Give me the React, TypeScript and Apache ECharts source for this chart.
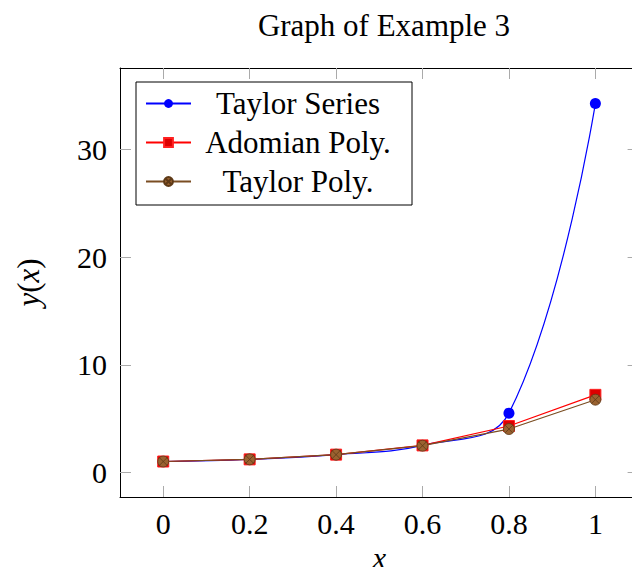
import React, { useEffect, useRef } from "react";
import * as echarts from "echarts";

const xValues = [0, 0.2, 0.4, 0.6, 0.8, 1];
const taylorSeries = [1, 1.2, 1.64, 2.5, 5.5, 34.3];
const adomianPoly = [1, 1.2, 1.64, 2.5, 4.3, 7.2];
const taylorPoly = [1, 1.2, 1.64, 2.47, 4.02, 6.75];
const xTicks = [0, 0.2, 0.4, 0.6, 0.8, 1];
const yTicks = [0, 10, 20, 30];
const seriesNames = ["Taylor Series", "Adomian Poly.", "Taylor Poly."];

const FONT = "'Liberation Serif', serif";
const otimes =
  "path://M10 0A10 10 0 1 1 -10 0A10 10 0 1 1 10 0Z M-7 -7L7 7M-7 7L7 -7";

function pairs(ys: number[]) {
  return xValues.map((x, i) => [x, ys[i]]);
}

export default function App() {
  const ref = useRef<HTMLDivElement>(null);
  useEffect(() => {
    if (!ref.current) return;
    const chart = echarts.init(ref.current, null, { renderer: "svg" });
    const tickStyle = { color: "#aaaaaa", width: 1 };
    const axisLine = { show: true, onZero: false, lineStyle: { color: "#000", width: 1 } };
    const baseX = {
      type: "value",
      min: -0.1,
      max: 1.1,
      splitLine: { show: false },
      axisLine,
    };
    const baseY = {
      type: "value",
      min: -2.3,
      max: 37.6,
      splitLine: { show: false },
      axisLine,
    };
    chart.setOption({
      animation: false,
      backgroundColor: "#fff",
      title: {
        text: "Graph of Example 3",
        left: 379,
        top: 5,
        textAlign: "center",
        textStyle: { fontFamily: FONT, fontSize: 31, fontWeight: "normal", color: "#000" },
      },
      grid: {
        left: 120,
        top: 68,
        width: 518.6,
        height: 429,
        containLabel: false,
        outerBoundsMode: "none",
      },
      legend: {
        orient: "vertical",
        left: 136,
        top: 82,
        padding: [6, 12, 8, 9],
        itemGap: 8,
        itemWidth: 45,
        itemHeight: 11,
        borderColor: "#000",
        borderWidth: 1,
        backgroundColor: "#fff",
        data: seriesNames,
        formatter: (name: string) => `{t|${name}}`,
        textStyle: {
          rich: {
            t: {
              width: 204,
              align: "center",
              fontFamily: FONT,
              fontSize: 31,
              lineHeight: 30,
              color: "#000",
            },
          },
        },
      },
      xAxis: [
        {
          ...baseX,
          position: "bottom",
          name: "x",
          nameLocation: "middle",
          nameGap: 37,
          nameTextStyle: {
            fontFamily: FONT,
            fontSize: 30,
            fontStyle: "italic",
            color: "#000",
          },
          axisTick: { inside: true, length: 11, lineStyle: tickStyle, customValues: xTicks },
          axisLabel: {
            customValues: xTicks,
            margin: 11,
            fontFamily: FONT,
            fontSize: 30,
            color: "#000",
            formatter: (v: number) => String(Math.round(v * 10) / 10),
          },
        },
        {
          ...baseX,
          position: "top",
          axisTick: { inside: true, length: 11, lineStyle: tickStyle, customValues: xTicks },
          axisLabel: { show: false },
        },
      ],
      yAxis: [
        {
          ...baseY,
          position: "left",
          name: "{i|y}{n|(}{i|x}{n|)}",
          nameLocation: "middle",
          nameGap: 76,
          nameTextStyle: {
            fontFamily: FONT,
            fontSize: 31,
            color: "#000",
            rich: {
              i: { fontFamily: FONT, fontSize: 31, fontStyle: "italic", color: "#000" },
              n: { fontFamily: FONT, fontSize: 31, color: "#000" },
            },
          },
          axisTick: { inside: true, length: 11, lineStyle: tickStyle, customValues: yTicks },
          axisLabel: {
            customValues: yTicks,
            margin: 13,
            fontFamily: FONT,
            fontSize: 30,
            color: "#000",
          },
        },
        {
          ...baseY,
          position: "right",
          axisTick: { inside: true, length: 11, lineStyle: tickStyle, customValues: yTicks },
          axisLabel: { show: false },
        },
      ],
      series: [
        {
          name: seriesNames[0],
          type: "line",
          smooth: 0.4,
          data: pairs(taylorSeries),
          symbol: "circle",
          symbolSize: 11,
          lineStyle: { color: "#0000ff", width: 1.2 },
          itemStyle: { color: "#0000ff" },
          z: 2,
        },
        {
          name: seriesNames[1],
          type: "line",
          data: pairs(adomianPoly),
          symbol: "rect",
          symbolSize: 11,
          lineStyle: { color: "#ff0000", width: 1.2 },
          itemStyle: { color: "#dd0000", borderColor: "#ff2020", borderWidth: 1 },
          z: 3,
        },
        {
          name: seriesNames[2],
          type: "line",
          data: pairs(taylorPoly),
          symbol: otimes,
          symbolSize: 11,
          lineStyle: { color: "#7a4d22", width: 1.2 },
          itemStyle: { color: "#9a6230", borderColor: "#5e3a17", borderWidth: 0.8 },
          z: 4,
        },
      ],
    });
    return () => chart.dispose();
  }, []);
  return (
    <div
      style={{
        position: "fixed",
        left: 0,
        top: 0,
        width: 632,
        height: 567,
        overflow: "hidden",
        background: "#fff",
      }}
    >
      <div ref={ref} style={{ width: 650, height: 567 }} />
    </div>
  );
}
